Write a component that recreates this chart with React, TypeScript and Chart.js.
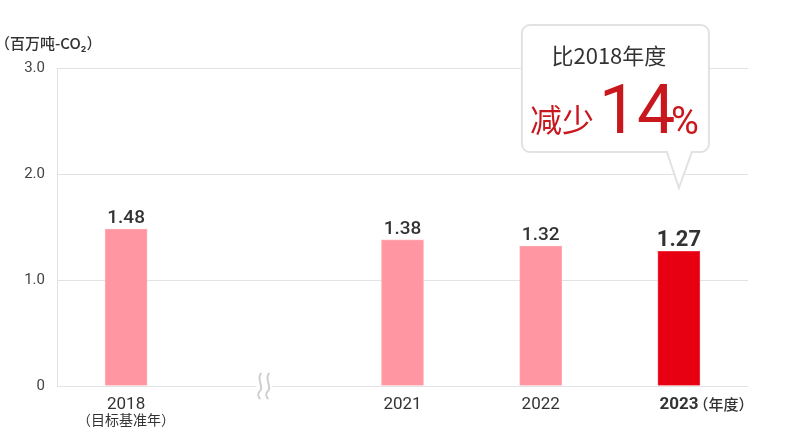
import React, { useEffect, useRef } from "react";
import { Chart, registerables } from "chart.js";

Chart.register(...registerables);

const categories = ["2018", "", "2021", "2022", "2023"];
const subLabels = ["（目标基准年）", "", "", "", ""];
const lastSuffix = "（年度）";
const values: (number | null)[] = [1.48, null, 1.38, 1.32, 1.27];
const valueLabels = ["1.48", "", "1.38", "1.32", "1.27"];
const barColors = ["#ff96a1", "#ff96a1", "#ff96a1", "#ff96a1", "#e60012"];
const barBorders = ["#ffaab3", "#ffaab3", "#ffaab3", "#ffaab3", "#f0303f"];
const yTickValues = [0, 1, 2, 3];
const yTickLabels = ["0", "1.0", "2.0", "3.0"];
const unitLabel = "（百万吨-CO₂）";
const calloutLine1 = "比2018年度";
const calloutWord = "减少";
const calloutNumber = "14";
const calloutPercent = "%";
const gapIndex = 1;
const highlightIndex = 4;

const FONT = "Roboto, 'Noto Sans CJK SC', sans-serif";
const CJK = "'Noto Sans CJK SC', Roboto, sans-serif";

const decorPlugin = {
  id: "decor",
  afterDraw(chart: any) {
    const ctx = chart.ctx;
    const x = chart.scales.x;
    const y = chart.scales.y;
    const base = y.getPixelForValue(0);
    ctx.save();

    // unit label
    ctx.fillStyle = "#333";
    ctx.font = `500 15px ${CJK}`;
    ctx.textAlign = "left";
    ctx.textBaseline = "alphabetic";
    ctx.fillText(unitLabel, -5, 49);

    // squiggle on baseline
    const gx = x.getPixelForValue(gapIndex);
    ctx.fillStyle = "#fff";
    ctx.fillRect(gx - 8, base - 3, 16, 6);
    ctx.strokeStyle = "#cfcfcf";
    ctx.lineWidth = 2;
    for (const off of [-4, 4]) {
      const cx = gx + off;
      ctx.beginPath();
      ctx.moveTo(cx + 1, base - 13);
      ctx.bezierCurveTo(cx - 5, base - 7, cx + 5, base + 1, cx - 1, base + 6);
      ctx.bezierCurveTo(cx - 3, base + 8, cx - 2, base + 11, cx + 0, base + 13);
      ctx.stroke();
    }

    // x labels
    ctx.textAlign = "center";
    categories.forEach((c, i) => {
      if (!c) return;
      const px = x.getPixelForValue(i);
      ctx.fillStyle = "#333";
      if (i === highlightIndex) {
        ctx.font = `bold 17px ${FONT}`;
        ctx.textAlign = "center";
        ctx.fillText(c, px, 409);
        const w = ctx.measureText(c).width;
        ctx.font = `500 15px ${CJK}`;
        ctx.textAlign = "left";
        ctx.fillText(lastSuffix, px + w / 2 - 5, 410);
        ctx.textAlign = "center";
      } else {
        ctx.font = `17px ${FONT}`;
        ctx.fillText(c, px, 409);
      }
      if (subLabels[i]) {
        ctx.font = `14px ${CJK}`;
        ctx.fillText(subLabels[i], px, 425);
      }
    });

    // value labels
    const meta = chart.getDatasetMeta(0);
    meta.data.forEach((bar: any, i: number) => {
      if (values[i] == null) return;
      ctx.fillStyle = "#333";
      ctx.font = i === highlightIndex ? `bold 22px ${FONT}` : `500 19px ${FONT}`;
      ctx.textAlign = "center";
      ctx.fillText(valueLabels[i], bar.x, bar.y - (i === highlightIndex ? 5 : 6));
    });

    // callout
    const tipX = x.getPixelForValue(highlightIndex);
    const left = tipX - 157;
    const right = tipX + 30;
    const top = 25;
    const bottom = 152;
    const r = 8;
    ctx.beginPath();
    ctx.moveTo(left + r, top);
    ctx.lineTo(right - r, top);
    ctx.arcTo(right, top, right, top + r, r);
    ctx.lineTo(right, bottom - r);
    ctx.arcTo(right, bottom, right - r, bottom, r);
    ctx.lineTo(tipX + 13, bottom);
    ctx.lineTo(tipX, 188);
    ctx.lineTo(tipX - 12, bottom);
    ctx.lineTo(left + r, bottom);
    ctx.arcTo(left, bottom, left, bottom - r, r);
    ctx.lineTo(left, top + r);
    ctx.arcTo(left, top, left + r, top, r);
    ctx.closePath();
    ctx.fillStyle = "#fff";
    ctx.fill();
    ctx.strokeStyle = "#e2e2e2";
    ctx.lineWidth = 2;
    ctx.stroke();

    ctx.fillStyle = "#333";
    ctx.font = `22px ${CJK}`;
    ctx.textAlign = "center";
    ctx.fillText(calloutLine1, tipX - 70, 64);

    ctx.fillStyle = "#c9171e";
    ctx.textAlign = "left";
    ctx.font = `32px ${CJK}`;
    ctx.fillText(calloutWord, tipX - 149, 132);
    ctx.font = `68px ${FONT}`;
    ctx.fillText(calloutNumber, tipX - 80, 133);
    ctx.font = `38px ${FONT}`;
    ctx.fillText(calloutPercent, tipX - 8, 134);

    ctx.restore();
  },
};

export default function App() {
  const ref = useRef<HTMLCanvasElement>(null);
  useEffect(() => {
    document.body.style.margin = "0";
    const chart = new Chart(ref.current as HTMLCanvasElement, {
      type: "bar",
      data: {
        labels: categories,
        datasets: [
          {
            data: values,
            backgroundColor: barColors,
            borderColor: barBorders,
            borderWidth: 1,
            barThickness: 42,
          },
        ],
      },
      options: {
        animation: false,
        responsive: false,
        devicePixelRatio: 1,
        layout: { padding: { top: 68, right: 52, left: 0, bottom: 0 } },
        plugins: { legend: { display: false }, tooltip: { enabled: false } },
        scales: {
          x: {
            grid: { display: false },
            border: { display: false },
            ticks: { display: false },
            afterFit: (s: any) => {
              s.height = 51;
            },
          },
          y: {
            min: 0,
            max: 3,
            afterBuildTicks: (s: any) => {
              s.ticks = yTickValues.map((v) => ({ value: v }));
            },
            ticks: {
              callback: (_v: any, i: number) => yTickLabels[i],
              color: "#444",
              font: { family: FONT, size: 15 },
              padding: 12,
            },
            grid: { color: "#e3e3e3", lineWidth: 1, drawTicks: false },
            border: { display: true, color: "#e3e3e3" },
            afterFit: (s: any) => {
              s.width = 57;
            },
          },
        },
      },
      plugins: [decorPlugin],
    });
    return () => chart.destroy();
  }, []);
  return (
    <div style={{ position: "absolute", left: 0, top: 0, width: 800, height: 437 }}>
      <canvas ref={ref} width={800} height={437} style={{ display: "block" }} />
    </div>
  );
}
